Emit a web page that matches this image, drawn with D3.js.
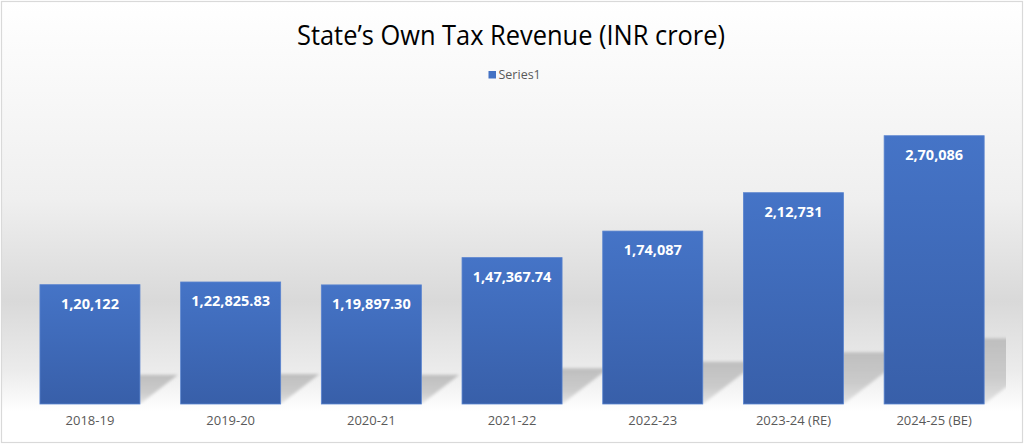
<!DOCTYPE html>
<html>
<head>
<meta charset="utf-8">
<script src="https://cdn.jsdelivr.net/npm/d3@7"></script>
<style>
	html, body { margin: 0; padding: 0; background: #fff; }
	svg { display: block; }
	.x-axis path, .x-axis line { display: none; }
	.x-axis text { font-family: 'Open Sans', sans-serif; font-size: 13px; fill: #595959; }
</style>
</head>
<body>
<div id="chart"></div>
<script>
var categories = ['2018-19', '2019-20', '2020-21', '2021-22', '2022-23', '2023-24 (RE)', '2024-25 (BE)'];
var values = [120122, 122825.83, 119897.30, 147367.74, 174087, 212731, 270086];
var seriesName = 'Series1';
var title = 'State\u2019s Own Tax Revenue (INR crore)';

(function() {
	var fullWidth = 1024;
	var fullHeight = 444;
	var plot = { left: 19.6, right: 1004.5, top: 106, bottom: 404 };

	// indian digit grouping: 1,20,122
	var inr = d3.formatLocale({ decimal: '.', thousands: ',', grouping: [3, 2, 2, 2], currency: ['', ''] });
	var fmtInt = inr.format(',d');
	var fmtDec = inr.format(',.2f');
	function label(v) { return Number.isInteger(v) ? fmtInt(v) : fmtDec(v); }

	var svg = d3.select('#chart')
		.append('svg')
		.attr('width', fullWidth)
		.attr('height', fullHeight);

	var defs = svg.append('defs');

	var bg = defs.append('linearGradient')
		.attr('id', 'bg')
		.attr('x1', 0).attr('y1', 0).attr('x2', 0).attr('y2', 1);
	[[0, '#ffffff'], [0.2, '#f8f8f8'], [0.45, '#efefef'], [0.68, '#d9d9d9'], [0.84, '#ececec'], [0.93, '#ffffff'], [1, '#ffffff']]
		.forEach(function(s) { bg.append('stop').attr('offset', s[0]).attr('stop-color', s[1]); });

	var barGrad = defs.append('linearGradient')
		.attr('id', 'barGrad')
		.attr('x1', 0).attr('y1', 0).attr('x2', 0).attr('y2', 1);
	barGrad.append('stop').attr('offset', 0).attr('stop-color', '#4574c7');
	barGrad.append('stop').attr('offset', 1).attr('stop-color', '#385fa9');

	var shadowGrad = defs.append('linearGradient')
		.attr('id', 'shadowGrad')
		.attr('x1', 0).attr('y1', 0).attr('x2', 0).attr('y2', 1);
	shadowGrad.append('stop').attr('offset', 0).attr('stop-color', '#bebebe');
	shadowGrad.append('stop').attr('offset', 0.6).attr('stop-color', '#cbcbcb');
	shadowGrad.append('stop').attr('offset', 1).attr('stop-color', '#e4e4e4');

	defs.append('filter')
		.attr('id', 'blur')
		.attr('x', '-20%').attr('y', '-20%').attr('width', '140%').attr('height', '140%')
		.append('feGaussianBlur')
		.attr('stdDeviation', 1.6);

	defs.append('clipPath')
		.attr('id', 'plotClip')
		.append('rect')
		.attr('x', 0).attr('y', 0)
		.attr('width', 1006).attr('height', plot.bottom);

	// chart area with its soft vertical gradient
	svg.append('rect')
		.attr('x', 1.5).attr('y', 1.5)
		.attr('width', fullWidth - 3).attr('height', fullHeight - 3)
		.attr('fill', 'url(#bg)')
		.attr('stroke', '#d9d9d9')
		.attr('stroke-width', 1.2);

	var x = d3.scaleBand()
		.domain(categories)
		.range([plot.left, plot.right])
		.paddingInner(0.289)
		.paddingOuter(0.1445);

	var y = d3.scaleLinear()
		.domain([0, 300000])
		.range([plot.bottom, plot.top]);

	var data = categories.map(function(c, i) { return { cat: c, value: values[i] }; });

	//perspective shadows behind the bars
	svg.append('g')
		.attr('clip-path', 'url(#plotClip)')
		.append('g')
		.attr('filter', 'url(#blur)')
		.selectAll('path')
		.data(data)
		.enter()
		.append('path')
		.attr('fill', 'url(#shadowGrad)')
		.attr('d', function(d) {
			var x0 = x(d.cat);
			var x1 = x0 + x.bandwidth();
			var h = (y(0) - y(d.value)) * 0.245;
			var dx = h * 1.3;
			return 'M' + x0 + ',' + y(0) +
				'L' + x1 + ',' + y(0) +
				'L' + (x1 + dx) + ',' + (y(0) - h) +
				'L' + (x0 + dx) + ',' + (y(0) - h) + 'Z';
		});

	svg.append('g')
		.selectAll('rect')
		.data(data)
		.enter()
		.append('rect')
		.attr('x', function(d) { return x(d.cat); })
		.attr('y', function(d) { return y(d.value); })
		.attr('width', x.bandwidth())
		.attr('height', function(d) { return y(0) - y(d.value); })
		.attr('fill', 'url(#barGrad)')
		.attr('stroke', '#5a84cf')
		.attr('stroke-width', 0.8);

	svg.append('g')
		.selectAll('text')
		.data(data)
		.enter()
		.append('text')
		.attr('x', function(d) { return x(d.cat) + x.bandwidth() / 2; })
		.attr('y', function(d) { return y(d.value) + 24; })
		.attr('text-anchor', 'middle')
		.style('font-family', "'Open Sans', sans-serif")
		.style('font-size', '14.5px')
		.style('font-weight', 'bold')
		.style('fill', '#ffffff')
		.text(function(d) { return label(d.value); });

	var xAxis = d3.axisBottom()
		.scale(x)
		.tickSize(0)
		.tickPadding(0);

	svg.append('g')
		.attr('class', 'x-axis')
		.attr('transform', 'translate(0,' + (plot.bottom + 12) + ')')
		.call(xAxis);

	svg.append('text')
		.attr('x', 511)
		.attr('y', 45)
		.attr('text-anchor', 'middle')
		.attr('textLength', 428)
		.attr('lengthAdjust', 'spacingAndGlyphs')
		.style('font-family', "'Open Sans', sans-serif")
		.style('font-size', '27px')
		.style('fill', '#000000')
		.text(title);

	//legend
	var legend = svg.append('g');
	legend.append('rect')
		.attr('x', 488.5).attr('y', 71)
		.attr('width', 7.5).attr('height', 7.5)
		.attr('fill', '#4472c4');
	legend.append('text')
		.attr('x', 498.5)
		.attr('y', 79)
		.style('font-family', "'Open Sans', sans-serif")
		.style('font-size', '12.5px')
		.style('fill', '#595959')
		.text(seriesName);
})();
</script>
</body>
</html>
